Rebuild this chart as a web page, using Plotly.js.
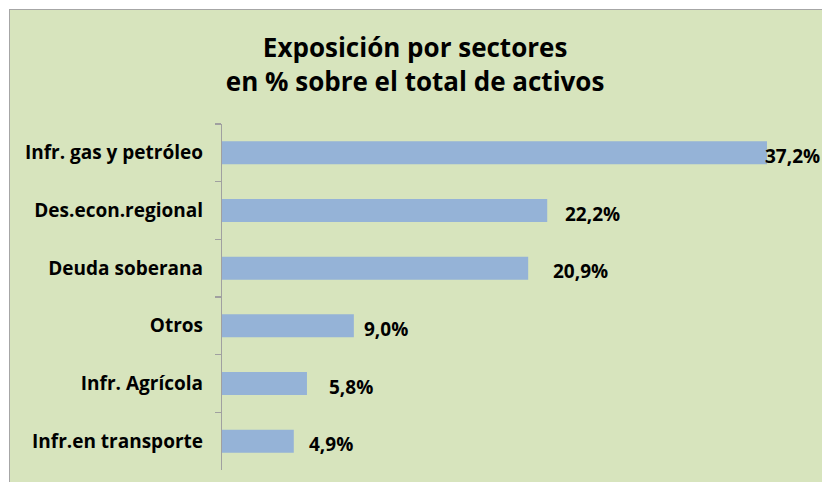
<!DOCTYPE html>
<html>
<head>
<meta charset="utf-8">
<script src="https://cdn.plot.ly/plotly-3.0.1.min.js"></script>
<style>
html,body{margin:0;padding:0;background:#ffffff;width:822px;height:482px;overflow:hidden;}
#bg{position:absolute;left:9px;top:9px;width:830px;height:490px;background:#D7E4BD;border:1.5px solid #A6A6A6;box-sizing:border-box;}
#chart{position:absolute;left:0;top:0;width:822px;height:482px;}
</style>
</head>
<body>
<div id="bg"></div>
<div id="chart"></div>
<script>
const categories = ["Infr. gas y petróleo", "Des.econ.regional", "Deuda soberana", "Otros", "Infr. Agrícola", "Infr.en transporte"];
const values = [37.2, 22.2, 20.9, 9.0, 5.8, 4.9];
const valueLabels = ["37,2%", "22,2%", "20,9%", "9,0%", "5,8%", "4,9%"];
const labelShift = [-4, 16, 23, 8, 20, 13];

const FONT = '"Open Sans", Lato, sans-serif';

const trace = {
  type: 'bar',
  orientation: 'h',
  y: categories,
  x: values,
  marker: {color: '#95B3D7'},
  hoverinfo: 'none'
};

const annotations = categories.map((c, i) => ({
  x: values[i], y: c, xref: 'x', yref: 'y',
  text: valueLabels[i], showarrow: false,
  xanchor: 'left', yanchor: 'middle', xshift: labelShift[i], yshift: -3,
  font: {family: FONT, size: 19, color: '#000000', weight: 'bold'}
}));

const layout = {
  width: 822, height: 482,
  paper_bgcolor: 'rgba(0,0,0,0)',
  plot_bgcolor: 'rgba(0,0,0,0)',
  margin: {l: 222, r: 14, t: 124, b: 12},
  bargap: 0.6,
  showlegend: false,
  title: {
    text: '<b>Exposición por sectores<br>en % sobre el total de activos</b>',
    x: 0.505, xanchor: 'center', y: 0.881, yanchor: 'top',
    font: {family: FONT, size: 26, color: '#000000'}
  },
  xaxis: {
    range: [0, 40], visible: false, showgrid: false, zeroline: false
  },
  yaxis: {
    type: 'category', autorange: 'reversed',
    showline: true, linecolor: '#A0A0A0', linewidth: 1.2,
    ticks: 'outside', ticklen: 6, tickcolor: '#A0A0A0', tickwidth: 1.2,
    tickson: 'boundaries', ticklabelstandoff: 14,
    showgrid: false, zeroline: false,
    tickfont: {family: FONT, size: 19, color: '#000000', weight: 'bold'}
  },
  annotations: annotations
};

Plotly.newPlot('chart', [trace], layout, {staticPlot: true, displayModeBar: false});
</script>
</body>
</html>
